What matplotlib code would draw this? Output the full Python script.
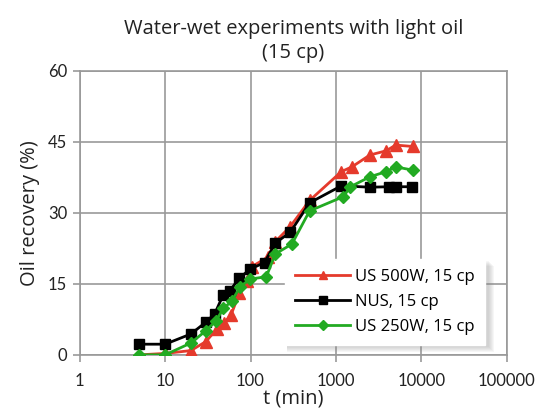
import matplotlib.pyplot as plt
from matplotlib.patches import Rectangle

# Recovery curves (time in minutes, recovery in %)
t_red = [5, 10, 20, 30, 40, 49, 59, 74, 90, 103, 162, 195, 292, 492, 1160, 1540, 2500, 3900, 5000, 8000]
rec_red = [0, 0.3, 0.9, 2.8, 5.4, 6.7, 8.4, 13.0, 15.5, 18.6, 20.7, 23.9, 27.1, 32.6, 38.7, 39.7, 42.2, 43.1, 44.3, 44.0]

t_black = [5, 10, 20, 30, 38, 48, 57, 74, 99, 146, 195, 292, 492, 1160, 2500, 4200, 5000, 7800]
rec_black = [2.25, 2.25, 4.4, 6.9, 8.65, 12.7, 13.5, 16.2, 18.1, 19.5, 23.6, 25.9, 32.1, 35.7, 35.4, 35.5, 35.5, 35.5]

t_green = [5, 10, 20, 30, 39.5, 48, 60, 76, 99, 153, 195, 305, 492, 1220, 1480, 2500, 3900, 5000, 8000]
rec_green = [0, 0, 2.5, 5.1, 7.2, 9.8, 11.3, 14.4, 16.0, 16.5, 21.3, 23.4, 30.4, 33.4, 35.5, 37.6, 38.7, 39.7, 39.0]

labels = ["US 500W, 15 cp", "NUS, 15 cp", "US 250W, 15 cp"]
x_ticks = [1, 10, 100, 1000, 10000, 100000]
y_ticks = [0, 15, 30, 45, 60]

fig = plt.figure(figsize=(5.39, 4.16), dpi=100)
ax = fig.add_axes([0.148, 0.147, 0.792, 0.683])

ax.plot(t_red, rec_red, color='#e53a2c', lw=2, marker='^', ms=8, label=labels[0], zorder=3)
ax.plot(t_black, rec_black, color='black', lw=2, marker='s', ms=7.5, label=labels[1], zorder=4)
ax.plot(t_green, rec_green, color='#22aa22', lw=2, marker='D', ms=6.5, label=labels[2], zorder=5)

ax.set_xscale('log')
ax.set_xlim(1, 100000)
ax.set_ylim(0, 60)
ax.set_xticks(x_ticks)
ax.set_xticklabels([str(v) for v in x_ticks])
ax.xaxis.set_minor_locator(plt.NullLocator())
ax.set_yticks(y_ticks)

ax.grid(True, color='#999999', lw=1.2)
ax.set_axisbelow(True)
for s in ax.spines.values():
    s.set_color('#999999')
    s.set_linewidth(1.2)
ax.tick_params(axis='both', length=5, width=1.2, color='#999999',
               labelsize=12, labelcolor='#222222', pad=4)
for lab in ax.get_xticklabels() + ax.get_yticklabels():
    lab.set_family('Lato')
ax.tick_params(axis='x', pad=8)

ax.set_title("Water-wet experiments with light oil\n(15 cp)", family='Open Sans',
             fontsize=14.5, color='#222222', pad=9, linespacing=1.25)
ax.set_xlabel("t (min)", family='Open Sans', fontsize=14.5, color='#222222', labelpad=0)
ax.set_ylabel("Oil recovery (%)", family='Open Sans', fontsize=14.5, color='#222222', labelpad=6)

leg = ax.legend(loc='lower right', bbox_to_anchor=(0.968, 0.005), frameon=True,
                fancybox=False, edgecolor='white', framealpha=1,
                prop={'family': 'Open Sans', 'size': 12}, handlelength=3.3,
                borderpad=0.6, labelspacing=0.55, handletextpad=0.3,
                markerscale=0.75)
leg.set_zorder(10)

# soft drop shadow behind the legend box
fig.canvas.draw()
bb = leg.get_window_extent().transformed(fig.transFigure.inverted())
px = 1 / 539, 1 / 416
for i in range(6, 0, -1):
    ax.add_patch(Rectangle((bb.x0 + 2 * px[0], bb.y0 - (1 + i) * px[1]),
                           bb.width + (1 + i) * px[0], bb.height,
                           transform=fig.transFigure, facecolor='#888888',
                           edgecolor='none', alpha=0.07, zorder=9, clip_on=False))

fig.savefig('out.png', dpi=100)
